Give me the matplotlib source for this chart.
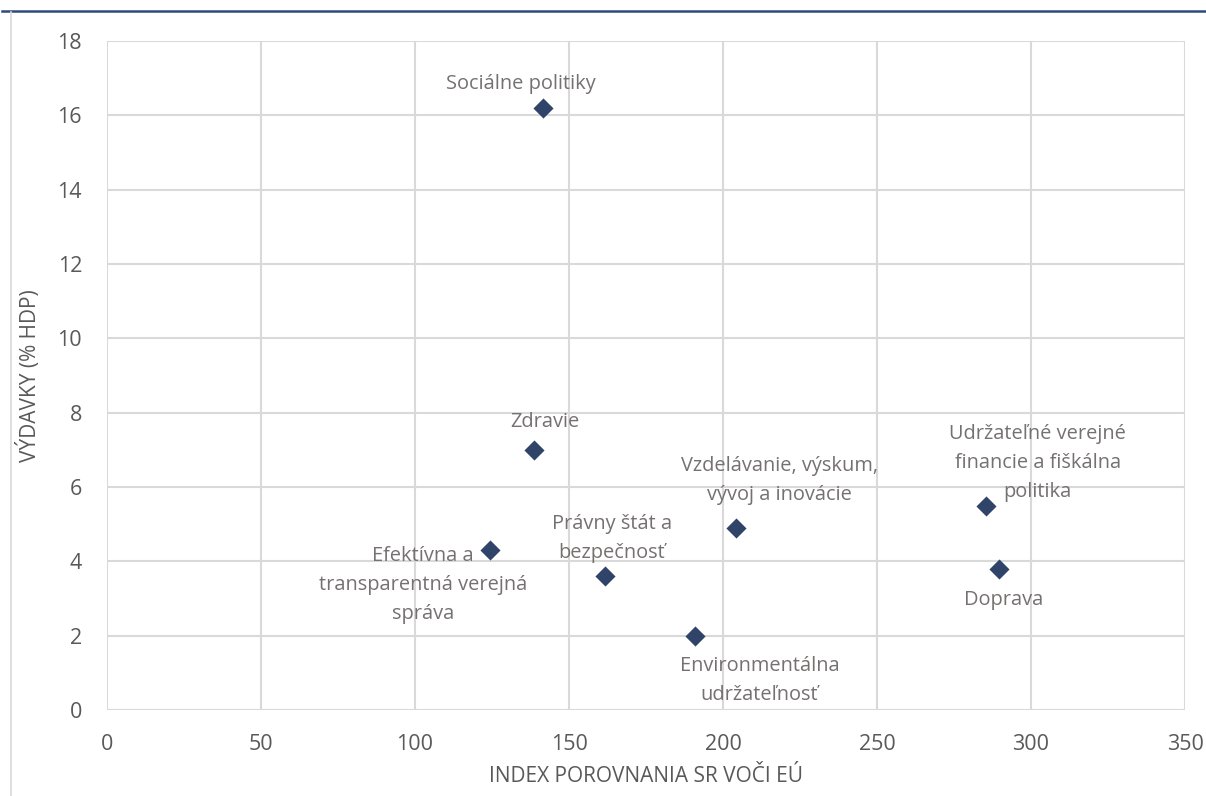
import matplotlib.pyplot as plt
from matplotlib.lines import Line2D

plt.rcParams['font.family'] = ['Open Sans', 'DejaVu Sans']

# data
oblasti = ['Sociálne politiky', 'Zdravie', 'Efektívna a\ntransparentná verejná\nspráva',
           'Právny štát a\nbezpečnosť', 'Environmentálna\nudržateľnosť',
           'Vzdelávanie, výskum,\nvývoj a inovácie',
           'Udržateľné verejné\nfinancie a fiškálna\npolitika', 'Doprava']
index_eu = [141.5, 138.7, 124.4, 161.7, 190.8, 204.1, 285.3, 289.6]
vydavky = [16.2, 7.0, 4.3, 3.6, 2.0, 4.9, 5.5, 3.8]

# label offsets in pixels (dx, dy), Excel-like manual placement
posuny = [(-22, 24), (11, 28), (-67, -35), (7, 38), (65, -45), (44, 47), (52, 43), (5, -31)]

modra = '#2F4468'
seda_txt = '#767171'
seda_tick = '#595959'
mriezka = '#D9D9D9'

fig = plt.figure(figsize=(12.06, 7.96), dpi=100)
ax = fig.add_axes([107 / 1206, 86 / 796, 1078 / 1206, 669 / 796])

ax.scatter(index_eu, vydavky, marker='D', s=105, color=modra, zorder=3, linewidths=0)

for nazov, x, y, (dx, dy) in zip(oblasti, index_eu, vydavky, posuny):
    ax.annotate(nazov, (x, y), xytext=(dx, dy), textcoords='offset pixels',
                ha='center', va='center', fontsize=14.4, color=seda_txt,
                linespacing=1.6, zorder=4)

ax.set_xlim(0, 350)
ax.set_ylim(0, 18)
ax.set_xticks(range(0, 351, 50))
ax.set_yticks(range(0, 19, 2))
ax.grid(True, color=mriezka, linewidth=1.5)
ax.set_axisbelow(True)
for s in ax.spines.values():
    s.set_visible(False)
ax.tick_params(length=0, labelsize=15.5, colors=seda_tick)
ax.tick_params(axis='x', pad=17)
ax.tick_params(axis='y', pad=18)

ax.set_xlabel('INDEX POROVNANIA SR VOČI EÚ', fontsize=15, color=seda_tick, labelpad=8)
ax.set_ylabel('VÝDAVKY (% HDP)', fontsize=15, color=seda_tick, labelpad=12)

# frame lines of the original report page
fig.add_artist(Line2D([2 / 1206, 1], [1 - 11 / 796, 1 - 11 / 796], color='#2E4A7A', linewidth=1.8))
fig.add_artist(Line2D([11 / 1206, 11 / 1206], [0, 1 - 12 / 796], color=mriezka, linewidth=1.2))

fig.savefig('out.png', dpi=100)
